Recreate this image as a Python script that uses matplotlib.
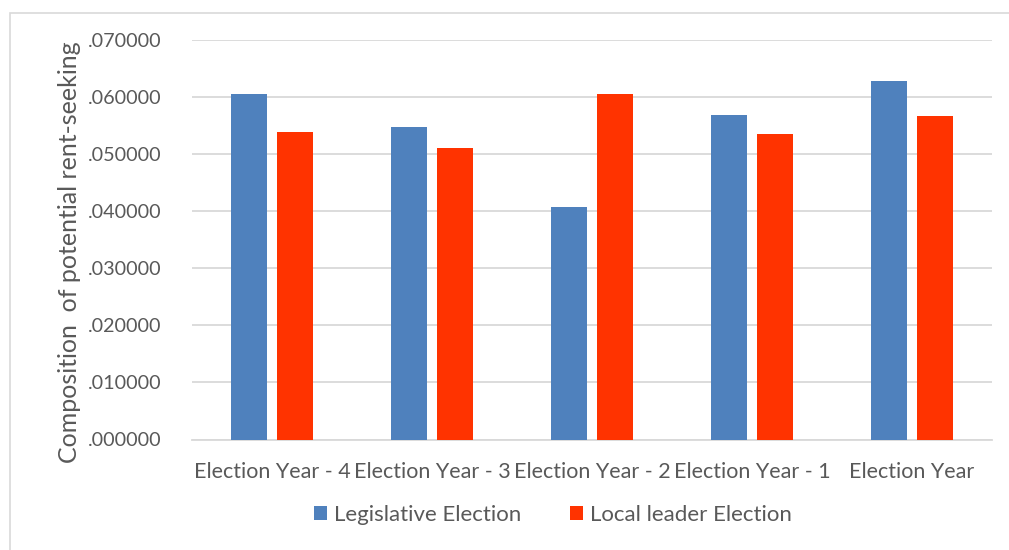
import numpy as np
import matplotlib.pyplot as plt
from matplotlib.patches import Rectangle
from matplotlib.ticker import FuncFormatter

plt.rcParams['font.family'] = ['Lato', 'DejaVu Sans']

categories = ['Election Year - 4', 'Election Year - 3', 'Election Year - 2',
              'Election Year - 1', 'Election Year']
legislative = [0.0605, 0.0548, 0.0407, 0.0568, 0.0629]
local_leader = [0.0539, 0.0510, 0.0605, 0.0535, 0.0567]
series_names = ['Legislative Election', 'Local leader Election']

BLUE = '#4F81BD'
RED = '#FF3300'
GREY_TEXT = '#595959'
GRID = '#D9D9D9'

fig = plt.figure(figsize=(10.09, 5.5), dpi=100)
ax = fig.add_axes([192 / 1009, 110.5 / 550, 800 / 1009, 399.5 / 550])

# light frame around the chart area (left and top edges show)
fig.patches.append(Rectangle((10 / 1009, -0.05), 1.1, (550 - 13) / 550 + 0.05,
                             transform=fig.transFigure, fill=False,
                             edgecolor=GRID, linewidth=1.2))

x = np.arange(len(categories))
width = 0.225
offset = 0.143
ax.bar(x - offset, legislative, width, color=BLUE, label=series_names[0], zorder=3)
ax.bar(x + offset, local_leader, width, color=RED, label=series_names[1], zorder=3)

ax.set_xlim(-0.5, len(categories) - 0.5)
ax.set_ylim(0, 0.07)
ax.set_yticks(np.arange(0, 0.0701, 0.01))
ax.yaxis.set_major_formatter(FuncFormatter(lambda v, p: ('%.6f' % v)[1:]))
ax.grid(axis='y', color=GRID, linewidth=1.3, zorder=0)
ax.set_axisbelow(True)

for s in ['top', 'right', 'left']:
    ax.spines[s].set_visible(False)
ax.spines['bottom'].set_color(GRID)
ax.spines['bottom'].set_linewidth(1.3)

ax.set_xticks(x)
ax.set_xticklabels(categories)
ax.tick_params(axis='both', length=0, colors=GREY_TEXT)
ax.tick_params(axis='x', pad=16, labelsize=15.5)
ax.tick_params(axis='y', pad=22, labelsize=14.2)

ax.set_ylabel('Composition  of potential rent-seeking', color=GREY_TEXT,
              fontsize=18)
ax.yaxis.set_label_coords(-0.139, 0.47)

fig.legend(loc='center', bbox_to_anchor=(553 / 1009, 1 - 515 / 550), ncol=2,
           frameon=False, fontsize=16, handlelength=0.6, handleheight=0.6,
           handletextpad=0.3, columnspacing=2.2, labelcolor=GREY_TEXT)

fig.savefig('out.png', dpi=100)
